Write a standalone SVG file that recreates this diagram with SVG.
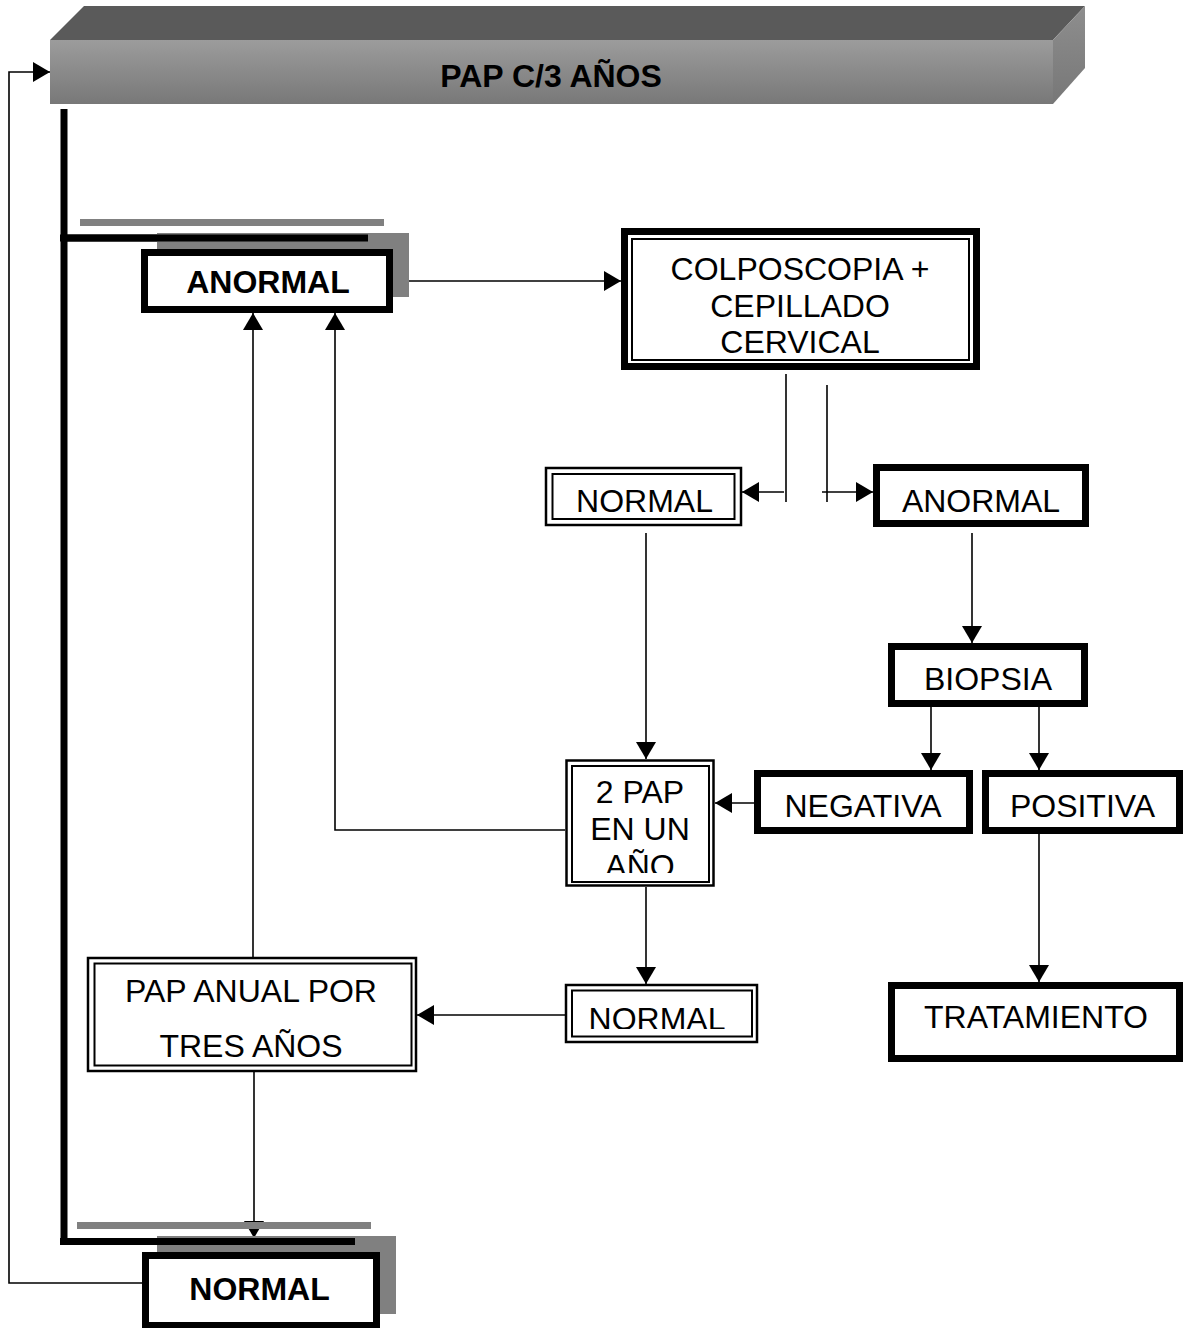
<svg xmlns="http://www.w3.org/2000/svg" width="1183" height="1328" viewBox="0 0 1183 1328">
<defs>
<style>
.t{font-family:"Liberation Sans",Arial,sans-serif;font-size:32px;fill:#000;text-anchor:middle}
.b{font-weight:bold;font-size:32px}
.thick{fill:#fff;stroke:#000;stroke-width:7}
.o{fill:#fff;stroke:#000;stroke-width:2.5}
.i{fill:none;stroke:#000;stroke-width:2}
.c{fill:none;stroke:#000;stroke-width:1.6}
.heavy{fill:none;stroke:#000;stroke-width:7}
.gray{fill:#808080}
</style>
<linearGradient id="front" x1="0" y1="0" x2="0" y2="1">
<stop offset="0" stop-color="#9c9c9c"/>
<stop offset="1" stop-color="#787878"/>
</linearGradient>
<linearGradient id="side" x1="0" y1="0" x2="0" y2="1">
<stop offset="0" stop-color="#8e8e8e"/>
<stop offset="1" stop-color="#777"/>
</linearGradient>
<marker id="ah" viewBox="0 0 17 20" refX="17" refY="10" markerWidth="17" markerHeight="20" markerUnits="userSpaceOnUse" orient="auto">
<path d="M0,0 L17,10 L0,20 z" fill="#000"/>
</marker>
<clipPath id="clip2pap"><rect x="572" y="766" width="137" height="107"/></clipPath>
<clipPath id="clipn2"><rect x="572" y="990" width="180" height="39"/></clipPath>
</defs>

<g id="banner">
<polygon points="50,40 84,6 1085,6 1053,40" fill="#5a5a5a"/>
<polygon points="1053,40 1085,6 1085,68 1053,104" fill="url(#side)"/>
<rect x="50" y="40" width="1003" height="64" fill="url(#front)"/>
<text class="t b" x="551" y="87">PAP C/3 AÑOS</text>
</g>

<g id="connectors">
<path class="c" d="M142,1283 H9 V72 H50" marker-end="url(#ah)"/>
<path class="heavy" d="M64,109 V1241.5 H355"/>
<path class="heavy" d="M64,238 H368"/>
<path class="c" d="M409,281 H621" marker-end="url(#ah)"/>
<path class="c" d="M786,374 V502"/>
<path class="c" d="M784,492 H742" marker-end="url(#ah)"/>
<path class="c" d="M827,385 V502"/>
<path class="c" d="M822,492 H873" marker-end="url(#ah)"/>
<path class="c" d="M646,533 V759" marker-end="url(#ah)"/>
<path class="c" d="M972,533 V643" marker-end="url(#ah)"/>
<path class="c" d="M931,707 V770" marker-end="url(#ah)"/>
<path class="c" d="M1039,707 V770" marker-end="url(#ah)"/>
<path class="c" d="M768,803 H715" marker-end="url(#ah)"/>
<path class="c" d="M1039,834 V982" marker-end="url(#ah)"/>
<path class="c" d="M565,830 H335 V313" marker-end="url(#ah)"/>
<path class="c" d="M646,887 V984" marker-end="url(#ah)"/>
<path class="c" d="M565,1015 H417" marker-end="url(#ah)"/>
<path class="c" d="M253,957 V313" marker-end="url(#ah)"/>
<path class="c" d="M254,1072 V1238" marker-end="url(#ah)"/>
</g>

<g id="anormal-top">
<rect class="gray" x="80" y="219" width="304" height="7"/>
<rect class="gray" x="157" y="233" width="252" height="64"/>
<rect x="60" y="234.5" width="308" height="7" fill="#000"/>
<rect class="thick" x="144.5" y="252.5" width="245" height="57"/>
<text class="t b" x="268" y="293">ANORMAL</text>
</g>

<g id="colposcopia">
<rect class="thick" x="624.5" y="231.5" width="352" height="135"/>
<rect class="i" x="632" y="239" width="337" height="121"/>
<text class="t" x="800" y="280">COLPOSCOPIA +</text>
<text class="t" x="800" y="317">CEPILLADO</text>
<text class="t" x="800" y="353">CERVICAL</text>
</g>

<g id="normal1">
<rect class="o" x="546" y="468" width="195" height="57"/>
<rect class="i" x="552.5" y="474" width="182" height="45"/>
<text class="t" x="644.5" y="512">NORMAL</text>
</g>

<g id="anormal2">
<rect class="thick" x="876.5" y="467.5" width="209" height="56"/>
<text class="t" x="981" y="512">ANORMAL</text>
</g>

<g id="biopsia">
<rect class="thick" x="891.5" y="646.5" width="193" height="57"/>
<text class="t" x="988" y="690">BIOPSIA</text>
</g>

<g id="negativa">
<rect class="thick" x="757.5" y="773.5" width="212" height="57"/>
<text class="t" x="863" y="817">NEGATIVA</text>
</g>

<g id="positiva">
<rect class="thick" x="985.5" y="773.5" width="194" height="57"/>
<text class="t" x="1082.5" y="817">POSITIVA</text>
</g>

<g id="dos-pap">
<rect class="o" x="566.5" y="760.5" width="147" height="125"/>
<rect class="i" x="572" y="766" width="137" height="116"/>
<g clip-path="url(#clip2pap)">
<text class="t" x="640" y="803">2 PAP</text>
<text class="t" x="640" y="840">EN UN</text>
<text class="t" x="640" y="877">AÑO</text>
</g>
</g>

<g id="tratamiento">
<rect class="thick" x="891.5" y="985.5" width="288" height="73"/>
<text class="t" x="1036" y="1028">TRATAMIENTO</text>
</g>

<g id="pap-anual">
<rect class="o" x="88" y="958" width="328" height="113"/>
<rect class="i" x="94.5" y="963.5" width="317" height="102"/>
<text class="t" x="251" y="1002">PAP ANUAL POR</text>
<text class="t" x="251" y="1057">TRES AÑOS</text>
</g>

<g id="normal2">
<rect class="o" x="566" y="985" width="191" height="57"/>
<rect class="i" x="572" y="990.5" width="180" height="46"/>
<g clip-path="url(#clipn2)">
<text class="t" x="657" y="1030">NORMAL</text>
</g>
</g>

<g id="normal-bottom">
<rect class="gray" x="77" y="1222" width="294" height="7"/>
<rect class="gray" x="157" y="1236" width="239" height="78"/>
<rect x="60" y="1238" width="295" height="7" fill="#000"/>
<rect class="thick" x="145.5" y="1255.5" width="231" height="70"/>
<text class="t b" x="259.5" y="1300">NORMAL</text>
</g>
</svg>
